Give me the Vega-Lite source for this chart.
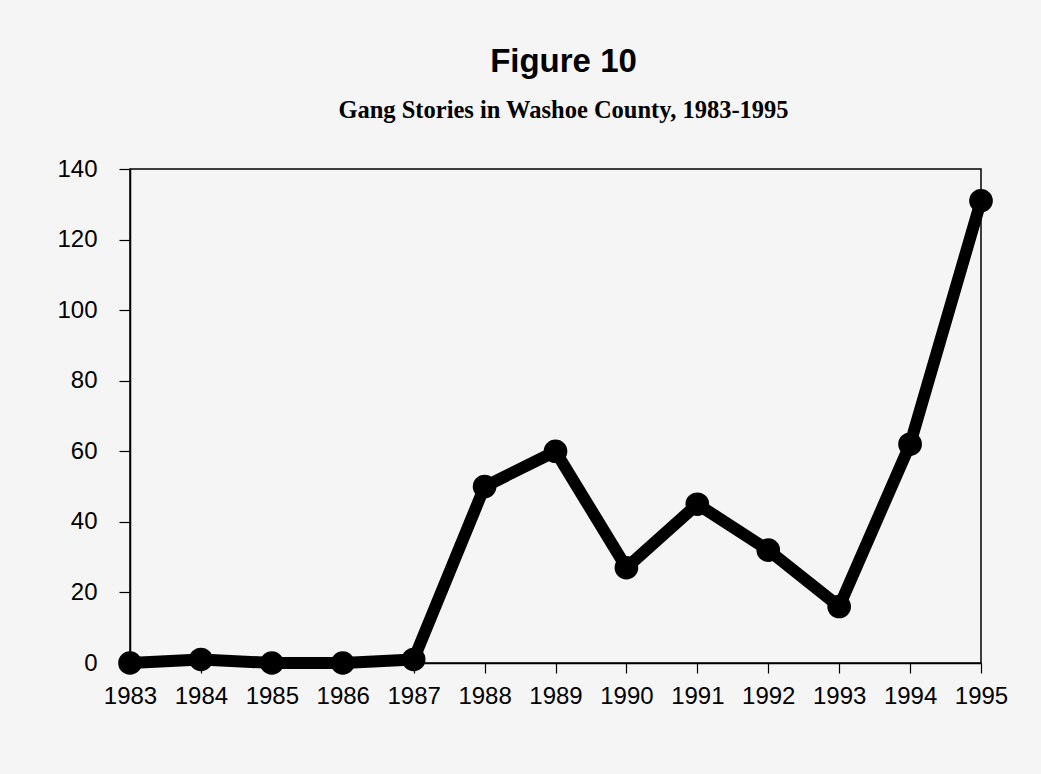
{
  "$schema": "https://vega.github.io/schema/vega-lite/v6.json",
  "width": 851,
  "height": 494,
  "autosize": {"type": "none"},
  "padding": {"left": 130, "top": 169, "right": 60, "bottom": 111},
  "background": "#f5f5f5",
  "title": {
    "text": "Figure 10",
    "subtitle": "Gang Stories in Washoe County, 1983-1995",
    "font": "Liberation Sans",
    "fontSize": 33,
    "fontWeight": "bold",
    "color": "black",
    "subtitleFont": "Liberation Serif",
    "subtitleFontSize": 24.5,
    "subtitleFontWeight": "bold",
    "subtitleColor": "black",
    "subtitlePadding": 20,
    "anchor": "middle",
    "offset": 35,
    "dx": 8
  },
  "config": {
    "view": {"stroke": "black", "strokeWidth": 1.5, "fill": null},
    "axis": {
      "labelFont": "Liberation Sans",
      "labelFontSize": 24,
      "labelColor": "black",
      "domainColor": "black",
      "domainWidth": 1.5,
      "tickColor": "black",
      "tickWidth": 1.2,
      "grid": false,
      "title": null
    }
  },
  "data": {
    "values": [
      {"year": "1983", "stories": 0},
      {"year": "1984", "stories": 1},
      {"year": "1985", "stories": 0},
      {"year": "1986", "stories": 0},
      {"year": "1987", "stories": 1},
      {"year": "1988", "stories": 50},
      {"year": "1989", "stories": 60},
      {"year": "1990", "stories": 27},
      {"year": "1991", "stories": 45},
      {"year": "1992", "stories": 32},
      {"year": "1993", "stories": 16},
      {"year": "1994", "stories": 62},
      {"year": "1995", "stories": 131}
    ]
  },
  "encoding": {
    "x": {
      "field": "year",
      "type": "ordinal",
      "scale": {"type": "point", "padding": 0},
      "axis": {"labelAngle": 0, "tickSize": 10, "labelPadding": 11}
    },
    "y": {
      "field": "stories",
      "type": "quantitative",
      "scale": {"domain": [0, 140], "nice": false, "zero": true},
      "axis": {"values": [0, 20, 40, 60, 80, 100, 120, 140], "tickSize": 11, "labelPadding": 22}
    }
  },
  "layer": [
    {
      "mark": {"type": "line", "color": "black", "strokeWidth": 12, "strokeJoin": "round", "strokeCap": "round", "clip": false}
    },
    {
      "mark": {"type": "point", "shape": "circle", "filled": true, "color": "black", "size": 560, "opacity": 1, "clip": false}
    }
  ]
}
